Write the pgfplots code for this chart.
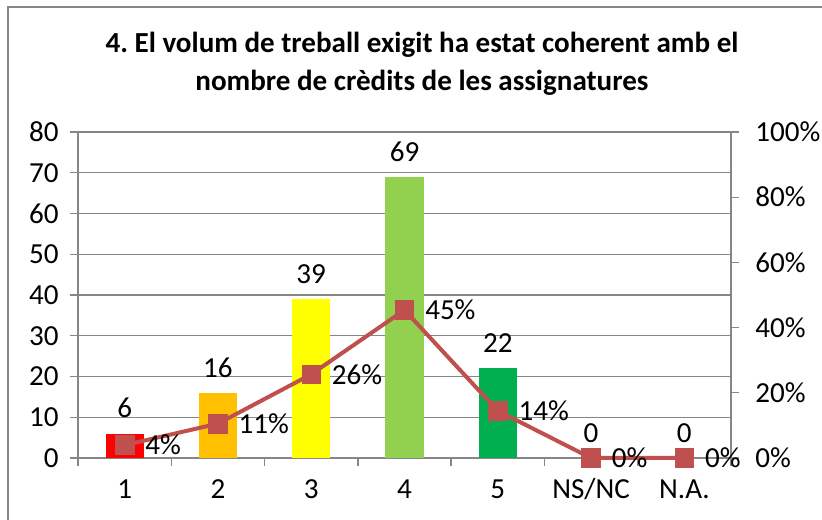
\documentclass[border=0pt]{standalone}
\usepackage{pgfplots}
\pgfplotsset{compat=1.18}
\usepackage{fontspec}
\setmainfont{Carlito}
\frenchspacing
\definecolor{gridgray}{HTML}{868686}
\definecolor{linered}{HTML}{C0504D}
\definecolor{cA}{HTML}{FF0000}
\definecolor{cB}{HTML}{FFC000}
\definecolor{cC}{HTML}{FFFF00}
\definecolor{cD}{HTML}{92D050}
\definecolor{cE}{HTML}{00B050}
\begin{document}
\begin{tikzpicture}
\useasboundingbox (0,0) rectangle (616.5pt,390pt);
\draw[gridgray, line width=1pt] (6pt,-20pt) rectangle (640pt,384.75pt);
\node[font=\fontsize{21.8}{28.5}\selectfont\bfseries, align=center] at (316.5pt,342pt)
  {4.~El volum de treball exigit ha estat coherent amb el\\nombre de crèdits de les assignatures};
\pgfplotsset{
  mybar/.style={ybar, bar shift=0pt, bar width=0.41, draw=none,
    nodes near coords,
    nodes near coords style={text=black, font=\fontsize{21.8}{24}\selectfont, anchor=south, yshift=8pt}},
}
\begin{axis}[
  at={(58.5pt,46.5pt)}, anchor=south west, scale only axis,
  width=489.75pt, height=244.5pt,
  xmin=-0.5, xmax=6.5, ymin=0, ymax=80,
  ytick={0,10,...,80},
  xtick={0,...,6}, xticklabels={1,2,3,4,5,NS/NC,N.A.},
  minor xtick={-0.5,0.5,...,6.5},
  major x tick style={draw=none},
  axis x line*=bottom, axis y line*=left,
  ymajorgrids, major grid style={gridgray, line width=1pt},
  axis line style={gridgray, line width=1pt, -},
  tick style={gridgray, line width=1pt},
  tick align=outside, major tick length=6pt, minor tick length=6pt,
  ticklabel style={font=\fontsize{21.8}{24}\selectfont, text=black},
  y tick label style={xshift=-5pt},
  x tick label style={yshift=-7pt, text height=13.8pt},
  /pgf/number format/assume math mode=true,
  clip=false,
]
\addplot[mybar, fill=cA] coordinates {(0,6)};
\addplot[mybar, fill=cB] coordinates {(1,16)};
\addplot[mybar, fill=cC] coordinates {(2,39)};
\addplot[mybar, fill=cD] coordinates {(3,69)};
\addplot[mybar, fill=cE] coordinates {(4,22)};
\addplot[mybar, fill=none] coordinates {(5,0) (6,0)};
\end{axis}
\begin{axis}[
  at={(58.5pt,46.5pt)}, anchor=south west, scale only axis,
  width=489.75pt, height=244.5pt,
  xmin=-0.5, xmax=6.5, ymin=0, ymax=1,
  axis x line=none, axis y line*=right,
  ytick={0,0.2,0.4,0.6,0.8,1},
  yticklabels={0\%,20\%,40\%,60\%,80\%,100\%},
  axis line style={gridgray, line width=1pt, -},
  tick style={gridgray, line width=1pt},
  tick align=outside, major tick length=6pt,
  ticklabel style={font=\fontsize{21.8}{24}\selectfont, text=black},
  y tick label style={xshift=8.7pt},
  clip=false,
]
\addplot[linered, line width=3pt, mark=square*,
  mark options={mark size=7pt, fill=linered, draw=linered, line width=0.5pt},
  point meta=explicit symbolic, nodes near coords,
  nodes near coords style={anchor=west, xshift=12pt, text=black, font=\fontsize{21.8}{24}\selectfont}]
  coordinates {(0,0.0395)[4\%] (1,0.1053)[11\%] (2,0.2566)[26\%] (3,0.4539)[45\%] (4,0.1447)[14\%] (5,0)[0\%] (6,0)[0\%]};
\end{axis}
\end{tikzpicture}
\end{document}
